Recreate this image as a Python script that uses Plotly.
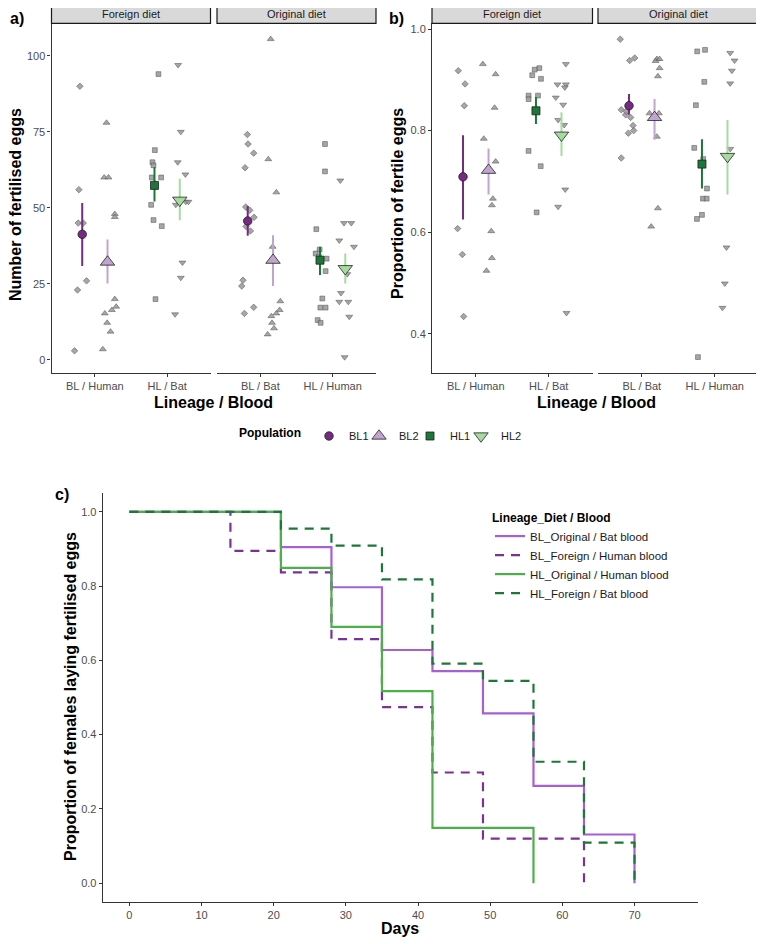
import plotly.graph_objects as go

FONT = "Liberation Sans, Arial, sans-serif"
W, H = 764, 944          # browser window
OFF = 8                  # default body margin of the html page
FW, FH = W - OFF, H - OFF

# ---------------- data ----------------
cats_foreign = ["BL / Human", "HL / Bat"]
cats_original = ["BL / Bat", "HL / Human"]
diet_labels = ["Foreign diet", "Original diet"]
populations = ["BL1", "BL2", "HL1", "HL2"]

# Panel a: number of fertilised eggs (raw points + jitter)
a_for_BL1 = [90, 56, 45, 45, 23, 26, 3]
a_for_BL1_jit = [-0.032, -0.046, -0.055, 0.014, -0.065, 0.060, -0.106]
a_for_BL2 = [78, 60, 60, 48, 47, 20, 17.5, 16.4, 15.3, 12.2, 9.3, 3.5]
a_for_BL2_jit = [-0.014, -0.046, 0.014, 0.101, 0.101, 0.101, 0.120, 0.060, -0.037, -0.005, 0.042, -0.065]
a_for_HL1 = [94, 69, 65, 64, 60, 60, 51, 46, 44, 20]
a_for_HL1_jit = [0.055, 0.005, -0.028, -0.014, -0.037, 0.092, -0.046, -0.014, 0.101, 0.014]
a_for_HL2 = [97, 75, 65, 61, 51, 52, 52, 32, 27, 15]
a_for_HL2_jit = [-0.023, 0.014, -0.028, 0.078, -0.055, 0.083, 0.120, 0.037, 0.014, -0.065]

a_ori_BL1 = [74.1, 71, 68, 63.2, 50.3, 49.2, 46.9, 43.9, 42.4, 26.2, 24.3, 17.3, 15.3]
a_ori_BL1_jit = [-0.005, 0.005, 0.083, -0.037, -0.028, 0.028, 0.088, -0.023, 0.037, -0.065, -0.083, 0.083, -0.046]
a_ori_BL2 = [105.5, 66, 55.1, 37.2, 19.3, 16.4, 15.3, 14.4, 12.2, 10.4, 8.4]
a_ori_BL2_jit = [-0.032, -0.065, 0.046, -0.005, 0.101, 0.092, 0.046, -0.023, -0.014, 0.014, -0.074]
a_ori_HL1 = [71, 62, 43, 36.3, 35, 33.9, 33.3, 29.2, 20.2, 17.2, 17.2, 13.1, 12.2]
a_ori_HL1_jit = [0.069, 0.069, -0.051, -0.005, -0.060, -0.014, 0.092, 0.078, 0.032, 0.005, 0.078, -0.032, 0.009]
a_ori_HL2 = [59, 45, 45, 39.3, 37.2, 28.2, 22, 19.1, 19.1, 14.2, 0.9]
a_ori_HL2_jit = [-0.069, -0.018, 0.083, -0.083, 0.120, 0.028, -0.060, -0.083, 0.042, 0.055, -0.009]

a_for_mean = [41.3, 32.2, 57.4, 52.5]
a_for_lo = [30.9, 25.1, 52.1, 45.9]
a_for_hi = [51.6, 39.6, 63.4, 59.6]
a_ori_mean = [45.7, 32.8, 32.8, 30.0]
a_ori_lo = [40.8, 24.3, 27.9, 25.1]
a_ori_hi = [50.6, 41.0, 37.2, 35.0]

# Panel b: proportion of fertile eggs
b_for_BL1 = [0.918, 0.892, 0.849, 0.607, 0.556, 0.434]
b_for_BL1_jit = [-0.065, 0.028, 0.018, -0.074, -0.009, 0.009]
b_for_BL2 = [0.931, 0.911, 0.845, 0.784, 0.739, 0.666, 0.653, 0.602, 0.549, 0.524]
b_for_BL2_jit = [-0.078, 0.097, 0.083, -0.065, 0.097, 0.060, 0.046, 0.037, 0.046, -0.028]
b_for_HL1 = [0.923, 0.920, 0.909, 0.902, 0.869, 0.862, 0.869, 0.760, 0.730, 0.639]
b_for_HL1_jit = [0.046, -0.018, -0.051, 0.069, -0.101, -0.101, 0.028, -0.101, 0.065, 0.009]
b_for_HL2 = [0.931, 0.891, 0.891, 0.885, 0.865, 0.851, 0.821, 0.811, 0.684, 0.650, 0.441]
b_for_HL2_jit = [0.060, -0.055, 0.060, 0.046, -0.078, 0.023, -0.046, 0.037, 0.051, -0.046, 0.069]

b_ori_BL1 = [0.980, 0.938, 0.943, 0.841, 0.831, 0.826, 0.838, 0.810, 0.795, 0.800, 0.746]
b_ori_BL1_jit = [-0.120, 0.009, 0.078, -0.106, -0.046, 0.023, -0.037, 0.055, -0.009, 0.065, -0.106]
b_ori_BL2 = [0.941, 0.937, 0.941, 0.923, 0.907, 0.834, 0.834, 0.788, 0.647, 0.611]
b_ori_BL2_jit = [0.032, 0.014, 0.069, 0.069, 0.046, -0.069, 0.060, 0.032, 0.046, -0.046]
b_ori_HL1 = [0.956, 0.959, 0.896, 0.850, 0.766, 0.744, 0.686, 0.666, 0.666, 0.626, 0.634, 0.354]
b_ori_HL1_jit = [-0.065, 0.042, 0.032, -0.083, -0.106, 0.018, 0.069, 0.014, 0.065, -0.069, 0.0, -0.055]
b_ori_HL2 = [0.953, 0.938, 0.918, 0.893, 0.764, 0.570, 0.499, 0.451]
b_ori_HL2_jit = [0.037, 0.097, 0.060, 0.037, 0.037, -0.014, -0.037, -0.069]

b_for_mean = [0.709, 0.722, 0.839, 0.791]
b_for_lo = [0.625, 0.674, 0.813, 0.750]
b_for_hi = [0.791, 0.765, 0.866, 0.836]
b_ori_mean = [0.849, 0.826, 0.734, 0.749]
b_ori_lo = [0.831, 0.782, 0.686, 0.674]
b_ori_hi = [0.872, 0.862, 0.783, 0.821]

# Panel c: survival-type curves
surv_names = ["BL_Original / Bat blood", "BL_Foreign / Human blood",
              "HL_Original / Human blood", "HL_Foreign / Bat blood"]
days_BL_ori = [0, 21, 28, 35, 42, 49, 56, 63, 70]
prop_BL_ori = [1.0, 0.905, 0.797, 0.628, 0.571, 0.457, 0.262, 0.131, 0.0]
days_BL_for = [0, 14, 21, 28, 35, 42, 49, 63]
prop_BL_for = [1.0, 0.895, 0.837, 0.657, 0.474, 0.298, 0.120, 0.0]
days_HL_ori = [0, 21, 28, 35, 42, 56]
prop_HL_ori = [1.0, 0.849, 0.690, 0.517, 0.149, 0.0]
days_HL_for = [0, 21, 28, 35, 42, 49, 56, 63, 70]
prop_HL_for = [1.0, 0.955, 0.909, 0.818, 0.591, 0.545, 0.327, 0.109, 0.0]

# ---------------- styles ----------------
pop_symbol = {"BL1": "circle", "BL2": "triangle-up", "HL1": "square", "HL2": "triangle-down"}
pop_raw_symbol = {"BL1": "diamond", "BL2": "triangle-up", "HL1": "square", "HL2": "triangle-down"}
pop_color = {"BL1": "#762a83", "BL2": "#c2a5cf", "HL1": "#1b7837", "HL2": "#a6dba0"}
pop_size = {"BL1": 8.5, "BL2": 12.5, "HL1": 8, "HL2": 12.5}
pop_raw_size = {"BL1": 5, "BL2": 6, "HL1": 4.8, "HL2": 6}
pop_cat = {"BL1": 1, "BL2": 1, "HL1": 2, "HL2": 2}
DODGE = 0.175
pop_dodge = {"BL1": -DODGE, "BL2": DODGE, "HL1": -DODGE, "HL2": DODGE}
pop_legend = {"BL1": "legend", "BL2": "legend3", "HL1": "legend4", "HL2": "legend5"}


def px(x):
    return (x - OFF) / FW


def py(y):
    return 1 - (y - OFF) / FH


fig = go.Figure()

panels = [
    ("x", "y", [a_for_BL1, a_for_BL2, a_for_HL1, a_for_HL2],
     [a_for_BL1_jit, a_for_BL2_jit, a_for_HL1_jit, a_for_HL2_jit], a_for_mean, a_for_lo, a_for_hi, True),
    ("x2", "y2", [a_ori_BL1, a_ori_BL2, a_ori_HL1, a_ori_HL2],
     [a_ori_BL1_jit, a_ori_BL2_jit, a_ori_HL1_jit, a_ori_HL2_jit], a_ori_mean, a_ori_lo, a_ori_hi, False),
    ("x3", "y3", [b_for_BL1, b_for_BL2, b_for_HL1, b_for_HL2],
     [b_for_BL1_jit, b_for_BL2_jit, b_for_HL1_jit, b_for_HL2_jit], b_for_mean, b_for_lo, b_for_hi, False),
    ("x4", "y4", [b_ori_BL1, b_ori_BL2, b_ori_HL1, b_ori_HL2],
     [b_ori_BL1_jit, b_ori_BL2_jit, b_ori_HL1_jit, b_ori_HL2_jit], b_ori_mean, b_ori_lo, b_ori_hi, False),
]

for xa, ya, raws, jits, means, los, his, show in panels:
    for i, pop in enumerate(populations):
        base = pop_cat[pop] + pop_dodge[pop]
        fig.add_trace(go.Scatter(
            x=[base + j for j in jits[i]], y=raws[i], xaxis=xa, yaxis=ya,
            mode="markers", showlegend=False, hoverinfo="y",
            marker=dict(symbol=pop_raw_symbol[pop], size=pop_raw_size[pop],
                        color="rgba(150,150,150,0.85)",
                        line=dict(color="rgba(85,85,85,0.9)", width=0.6)),
        ))
    for i, pop in enumerate(populations):
        base = pop_cat[pop] + pop_dodge[pop]
        fig.add_trace(go.Scatter(
            x=[base], y=[means[i]], xaxis=xa, yaxis=ya, mode="markers",
            name=pop, legendgroup=pop, showlegend=show, legend=pop_legend[pop],
            marker=dict(symbol=pop_symbol[pop], size=pop_size[pop], color=pop_color[pop],
                        line=dict(color="#222222", width=0.8)),
            error_y=dict(type="data", symmetric=False, array=[his[i] - means[i]],
                         arrayminus=[means[i] - los[i]], width=0, thickness=2,
                         color=pop_color[pop]),
        ))

surv_days = [days_BL_ori, days_BL_for, days_HL_ori, days_HL_for]
surv_props = [prop_BL_ori, prop_BL_for, prop_HL_ori, prop_HL_for]
surv_colors = ["#a660d2", "#7b3294", "#4daf4a", "#1b7837"]
surv_dash = ["solid", "9px,7px", "solid", "9px,7px"]
for name, d, p, c, ds in zip(surv_names, surv_days, surv_props, surv_colors, surv_dash):
    fig.add_trace(go.Scatter(
        x=d, y=p, xaxis="x5", yaxis="y5", mode="lines", name=name, legend="legend2",
        line=dict(color=c, width=2.2, dash=ds, shape="hv"),
    ))

# ---------------- axes ----------------
AX = "#333333"
TICKF = dict(family=FONT, size=11, color="#4d4d4d")

facet_x = {"x": (51.5, 210.5), "x2": (217, 376), "x3": (432, 592.5), "x4": (598, 758.5)}
facet_cats = {"x": cats_foreign, "x2": cats_original, "x3": cats_foreign, "x4": cats_original}
top, bottom = 23.3, 373
layout_axes = {}
for key, (l, r) in facet_x.items():
    num = key[1:]
    layout_axes["xaxis" + num] = dict(
        domain=[px(l), px(r)], anchor="y" + num, range=[0.4, 2.6],
        tickvals=[1, 2], ticktext=facet_cats[key], showline=True, linecolor=AX, linewidth=1.1,
        ticks="outside", ticklen=3, tickcolor=AX, tickfont=TICKF, showgrid=False, zeroline=False,
    )

ydom = [py(bottom), py(top)]
layout_axes["yaxis"] = dict(domain=ydom, anchor="x", range=[-4.3, 110.7], tickvals=[0, 25, 50, 75, 100],
                            showline=True, linecolor=AX, linewidth=1.1, ticks="outside", ticklen=3,
                            tickcolor=AX, tickfont=TICKF, showgrid=False, zeroline=False)
layout_axes["yaxis2"] = dict(domain=ydom, anchor="x2", matches="y", showline=False, showticklabels=False,
                             ticks="", showgrid=False, zeroline=False)
layout_axes["yaxis3"] = dict(domain=ydom, anchor="x3", range=[0.3227, 1.0113], tickvals=[0.4, 0.6, 0.8, 1.0],
                             tickformat=".1f", showline=True, linecolor=AX, linewidth=1.1, ticks="outside",
                             ticklen=3, tickcolor=AX, tickfont=TICKF, showgrid=False, zeroline=False)
layout_axes["yaxis4"] = dict(domain=ydom, anchor="x4", matches="y3", showline=False, showticklabels=False,
                             ticks="", showgrid=False, zeroline=False)
layout_axes["xaxis5"] = dict(domain=[px(102.7), px(698)], anchor="y5", range=[-3.7, 78.8],
                             tickvals=[0, 10, 20, 30, 40, 50, 60, 70], showline=True, linecolor=AX,
                             linewidth=1.1, ticks="outside", ticklen=3, tickcolor=AX, tickfont=TICKF,
                             showgrid=False, zeroline=False)
layout_axes["yaxis5"] = dict(domain=[py(901.7), py(493.3)], anchor="x5", range=[-0.05, 1.05],
                             tickvals=[0, 0.2, 0.4, 0.6, 0.8, 1.0], tickformat=".1f", showline=True,
                             linecolor=AX, linewidth=1.1, ticks="outside", ticklen=3, tickcolor=AX,
                             tickfont=TICKF, showgrid=False, zeroline=False)

# ---------------- strips, titles ----------------
shapes = []
annotations = []
for key, (l, r) in facet_x.items():
    shapes.append(dict(type="rect", xref="paper", yref="paper", x0=px(l), x1=px(r),
                       y0=py(top), y1=py(4.5), fillcolor="#d9d9d9", line=dict(color="#1a1a1a", width=1.2),
                       layer="above"))
    label = diet_labels[0] if key in ("x", "x3") else diet_labels[1]
    annotations.append(dict(text=label, x=px((l + r) / 2), y=py(14), xref="paper", yref="paper",
                            showarrow=False, font=dict(family=FONT, size=11, color="#1a1a1a"),
                            xanchor="center", yanchor="middle"))


def ann(text, x, y, angle=0, size=16):
    annotations.append(dict(text="<b>%s</b>" % text, x=px(x), y=py(y), xref="paper", yref="paper",
                            showarrow=False, textangle=angle, xanchor="center", yanchor="middle",
                            font=dict(family=FONT, size=size, color="black")))


ann("a)", 17, 18.5, size=16)
ann("b)", 396, 18.5, size=16)
ann("c)", 62, 494, size=16)
ann("Number of fertilised eggs", 15, 205, -90)
ann("Proportion of fertile eggs", 397, 204, -90)
ann("Lineage / Blood", 213, 402)
ann("Lineage / Blood", 596, 402)
ann("Proportion of females laying fertilised eggs", 70, 697, -90)
ann("Days", 400, 928)

LEGF = dict(family=FONT, size=11.5, color="#1a1a1a")
POPF = dict(family=FONT, size=11, color="#1a1a1a")
pop_leg_common = dict(orientation="h", y=py(436), xanchor="left", yanchor="middle",
                      bgcolor="rgba(0,0,0,0)", itemwidth=30, font=POPF)

fig.update_layout(
    width=FW, height=FH, margin=dict(l=0, r=0, t=0, b=0),
    paper_bgcolor="white", plot_bgcolor="white",
    font=dict(family=FONT, size=11, color="#1a1a1a"),
    shapes=shapes, annotations=annotations,
    legend=dict(x=px(237),
                title=dict(text="<b>Population</b>", font=dict(family=FONT, size=12, color="black"), side="left"),
                **pop_leg_common),
    legend3=dict(x=px(359), **pop_leg_common),
    legend4=dict(x=px(410), **pop_leg_common),
    legend5=dict(x=px(461), **pop_leg_common),
    legend2=dict(orientation="v", x=px(490), y=py(506), xanchor="left", yanchor="top",
                 bgcolor="rgba(0,0,0,0)", itemwidth=30,
                 title=dict(text="<b>Lineage_Diet / Blood</b>", font=dict(family=FONT, size=12, color="black")),
                 font=LEGF),
    **layout_axes,
)

fig.write_html("out.html")
